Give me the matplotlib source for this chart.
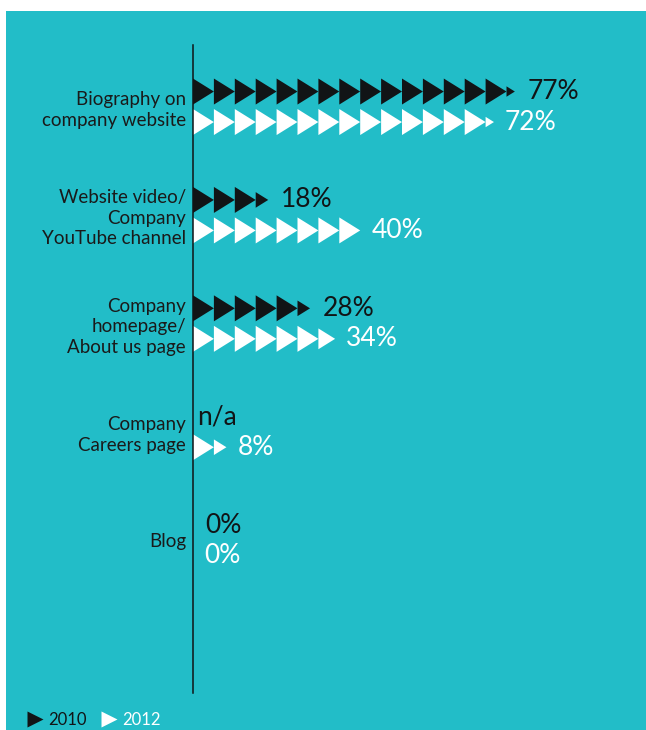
import matplotlib
matplotlib.use("Agg")
import matplotlib.pyplot as plt
from matplotlib.patches import Polygon, Rectangle
from matplotlib.lines import Line2D

# ---- data ----
categories = [
    "Biography on\ncompany website",
    "Website video/\nCompany\nYouTube channel",
    "Company\nhomepage/\nAbout us page",
    "Company\nCareers page",
    "Blog",
]
values_2010 = [77, 18, 28, None, 0]   # None = not available
values_2012 = [72, 40, 34, 8, 0]
years = ["2010", "2012"]

# ---- style ----
TEAL = "#22BDC8"
DARK = "#111416"
WHITE = "#FFFFFF"
UNIT = 5.0            # one arrow head per 5 percentage points
ROW_OFF = 0.1407      # vertical offset of each year's row from the group centre
TRI_H = 0.24          # arrow head height in group units
VAL_FS = 19

plt.rcParams["font.family"] = ["Lato", "DejaVu Sans"]

W, H = 646, 730
fig = plt.figure(figsize=(W / 100, H / 100), dpi=100, facecolor="white")

# teal panel
fig.add_artist(Rectangle((6 / W, 0), 1 - 6 / W, 1 - 11 / H,
                         transform=fig.transFigure, facecolor=TEAL,
                         edgecolor="none", zorder=0))

ax_left, ax_right = 193, 646
ax_top, ax_bot = 45, 693
ax = fig.add_axes([ax_left / W, (H - ax_bot) / H,
                   (ax_right - ax_left) / W, (ax_bot - ax_top) / H])
ax.set_facecolor("none")
px_per_pct = 4.18
ax.set_xlim(0, (ax_right - ax_left) / px_per_pct)
ax.set_ylim(5.408, -0.570)

for s in ["top", "right", "bottom"]:
    ax.spines[s].set_visible(False)
ax.spines["left"].set_color(DARK)
ax.spines["left"].set_linewidth(1.1)
ax.set_xticks([])
ax.set_yticks(range(len(categories)))
ax.set_yticklabels(categories, fontsize=13.5, color="#1a1a1a",
                   linespacing=1.25, ha="right")
ax.tick_params(axis="y", length=0, pad=5)


def arrow_row(value, yc, color):
    """Draw a row of arrow heads, one per UNIT, with a scaled final head."""
    full = int(value // UNIT)
    rem = value - full * UNIT
    for k in range(full):
        x0 = k * UNIT
        ax.add_patch(Polygon([(x0, yc - TRI_H / 2), (x0 + UNIT, yc),
                              (x0, yc + TRI_H / 2)],
                             closed=True, facecolor=color, edgecolor="none"))
    if rem > 1e-9:
        f = rem / UNIT
        x0 = full * UNIT
        ax.add_patch(Polygon([(x0, yc - TRI_H * f / 2), (x0 + rem, yc),
                              (x0, yc + TRI_H * f / 2)],
                             closed=True, facecolor=color, edgecolor="none"))


for i, (v10, v12) in enumerate(zip(values_2010, values_2012)):
    y10, y12 = i - ROW_OFF, i + ROW_OFF
    if v10 is None:
        ax.annotate("n/a", (0, y10), xytext=(3, 0), textcoords="offset points",
                    va="center", ha="left", fontsize=VAL_FS, color=DARK)
    else:
        arrow_row(v10, y10, DARK)
        ax.annotate(f"{v10}%", (v10, y10), xytext=(9, 0),
                    textcoords="offset points", va="center", ha="left",
                    fontsize=VAL_FS, color=DARK)
    arrow_row(v12, y12, WHITE)
    ax.annotate(f"{v12}%", (v12, y12), xytext=(8, 0),
                textcoords="offset points", va="center", ha="left",
                fontsize=VAL_FS, color=WHITE)

handles = [Line2D([], [], marker=">", linestyle="none", markersize=11,
                  markerfacecolor=c, markeredgecolor="none")
           for c in (DARK, WHITE)]
leg = fig.legend(handles, years, loc="center left",
                 bbox_to_anchor=(20 / W, (H - 720) / H), ncol=2, frameon=False,
                 fontsize=12, handlelength=1.0, handletextpad=0.3,
                 columnspacing=0.8, borderaxespad=0)
for t, c in zip(leg.get_texts(), (DARK, WHITE)):
    t.set_color(c)

fig.savefig("out.png", dpi=100, facecolor="white")
